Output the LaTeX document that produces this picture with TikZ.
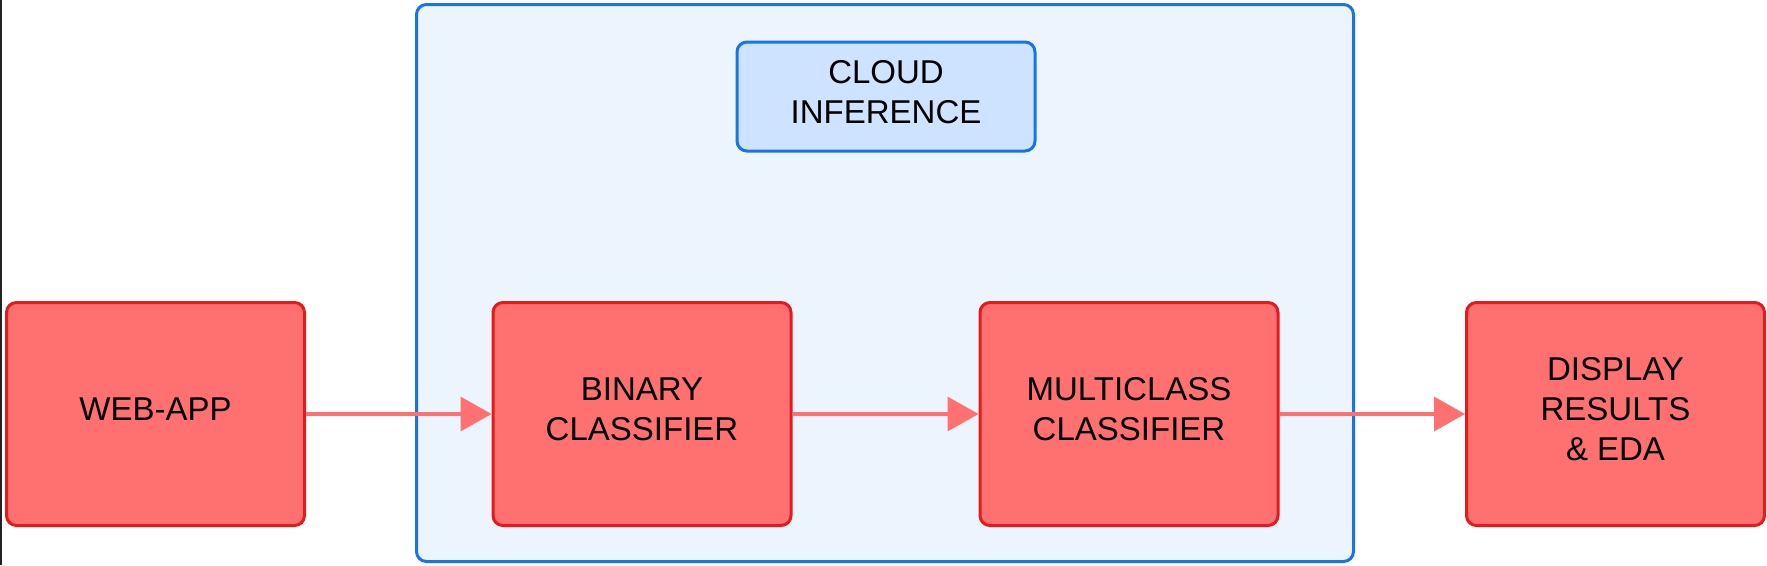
\documentclass[tikz,border=0pt]{standalone}
\usepackage{fontspec}
\setmainfont{Liberation Sans}
\usetikzlibrary{arrows.meta}
\definecolor{redfill}{HTML}{FF7070}
\definecolor{redline}{HTML}{E51B1B}
\definecolor{arrowcol}{HTML}{FF7070}
\definecolor{contfill}{HTML}{ECF4FE}
\definecolor{blueline}{HTML}{1A73E8}
\definecolor{cloudfill}{HTML}{CDE3FF}
\definecolor{edgeline}{HTML}{222222}
\tikzset{
  lbl/.style={font=\fontsize{33}{40}\selectfont, align=center, text=black, text depth=10pt},
  redbox/.style={lbl, draw=redline, fill=redfill, line width=3pt, rounded corners=10pt,
    minimum width=298pt, minimum height=223pt, inner sep=0pt},
  container/.style={draw=blueline, fill=contfill, line width=3pt, rounded corners=10pt,
    minimum width=937pt, minimum height=557pt, inner sep=0pt},
  cloudbox/.style={lbl, draw=blueline, fill=cloudfill, line width=3pt, rounded corners=10pt,
    minimum width=298pt, minimum height=109pt, inner sep=0pt},
  flow/.style={draw=arrowcol, line width=3.5pt, -{Triangle[length=31pt,width=34pt]}}
}
\begin{document}
\begin{tikzpicture}[x=1pt,y=-1pt]
\useasboundingbox (0,0) rectangle (1767,565);
\fill[edgeline] (0,0) rectangle (2,565);
\node[container] (cloud) at (885,283) {};
\node[cloudbox] (ci) at (886,96.5) {CLOUD\\INFERENCE};
\node[redbox] (web) at (155.5,414) {WEB-APP};
\node[redbox] (bin) at (642,414) {BINARY\\CLASSIFIER};
\node[redbox] (multi) at (1129,414) {MULTICLASS\\CLASSIFIER};
\node[redbox] (disp) at (1615.5,414) {DISPLAY\\RESULTS\\\& EDA};
\draw[flow] (web.east) -- (bin.west);
\draw[flow] (bin.east) -- (multi.west);
\draw[flow] (multi.east) -- (disp.west);
\end{tikzpicture}
\end{document}
